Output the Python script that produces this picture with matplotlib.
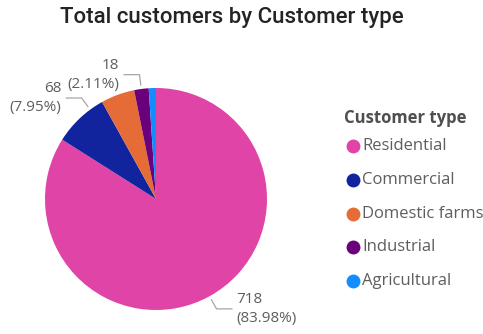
import numpy as np
import matplotlib.pyplot as plt

# customers per type
types = ['Residential', 'Commercial', 'Domestic farms', 'Industrial', 'Agricultural']
customers = [718, 68, 42, 18, 9]
colors = ['#E044A7', '#12239E', '#E66C37', '#6B007B', '#118DFF']
# which slices get a data label, and a small angle nudge for the leader
labelled = {'Residential': 0, 'Commercial': -7, 'Industrial': 0}

W, H = 483, 334
fig = plt.figure(figsize=(W / 100, H / 100), dpi=100)
ax = fig.add_axes([0, 0, 1, 1])

cx, cy, R = 156, H - 199, 111
wedges, _ = ax.pie(customers, colors=colors, startangle=90, counterclock=False,
                   center=(cx, cy), radius=R, wedgeprops=dict(linewidth=0))
ax.set_xlim(0, W)
ax.set_ylim(0, H)
ax.set_aspect('auto')
ax.axis('off')

txt_color = '#605E5C'
total = sum(customers)
for w, name, val in zip(wedges, types, customers):
    if name not in labelled:
        continue
    ang = np.deg2rad((w.theta1 + w.theta2) / 2 + labelled[name])
    c, s = np.cos(ang), np.sin(ang)
    x0, y0 = cx + R * 1.03 * c, cy + R * 1.03 * s
    x1, y1 = cx + R * 1.13 * c, cy + R * 1.13 * s
    side = 1 if c > 0 else -1
    x2 = x1 + side * 16
    ax.plot([x0, x1, x2], [y0, y1, y1], color='#A6A6A6', lw=0.9, solid_capstyle='butt')
    ax.text(x2 + side * 4, y1, f'{val}\n({val / total * 100:.2f}%)',
            ha='left' if side > 0 else 'right', va='center',
            multialignment='left' if side > 0 else 'right',
            fontsize=11, color=txt_color, family='Open Sans', linespacing=1.35)

ax.text(232, H - 17.5, 'Total customers by Customer type', ha='center', va='center',
        fontsize=16, fontweight='medium', color='#252423', family='Roboto')

# legend
ax.text(344, H - 118, 'Customer type', ha='left', va='center', fontsize=12,
        fontweight='bold', color='#4F4F4F', family='Open Sans')
for i, (name, col) in enumerate(zip(types, colors)):
    y = H - (146 + i * 33.8)
    ax.scatter(353, y, s=100, color=col, linewidths=0)
    ax.text(362, y, name, ha='left', va='center', fontsize=12,
            color=txt_color, family='Open Sans')

fig.savefig('out.png', dpi=100, facecolor='white')
